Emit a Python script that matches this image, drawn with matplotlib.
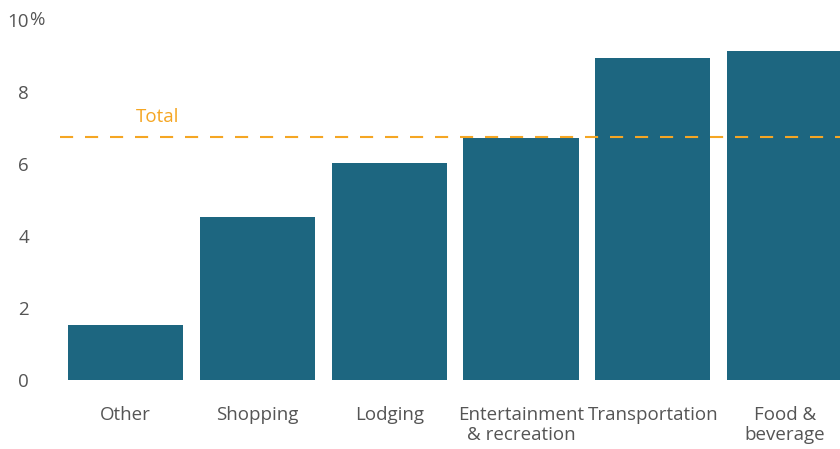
import matplotlib
matplotlib.use("Agg")
import matplotlib.pyplot as plt
import matplotlib.transforms as mtransforms

# Data
categories = ["Other", "Shopping", "Lodging", "Entertainment\n& recreation",
              "Transportation", "Food &\nbeverage"]
values = [1.53, 4.53, 6.03, 6.72, 8.94, 9.14]
total = 6.75
yticks = [0, 2, 4, 6, 8, 10]

bar_color = "#1d6680"
total_color = "#f5a623"
text_color = "#555555"

plt.rcParams['font.family'] = ['Open Sans', 'DejaVu Sans']

fig = plt.figure(figsize=(8.4, 4.49), dpi=100)
ax = fig.add_axes([40 / 840, 69 / 449, 800 / 840, 360 / 449])

x = list(range(len(categories)))
ax.bar(x, values, width=0.873, color=bar_color, zorder=2)

# Total reference line
ax.axhline(total, xmin=20 / 800, xmax=1, color=total_color, lw=1.5,
           linestyle=(0, (6.3, 5.7)), zorder=3)
ax.text(0.12, 7.3, "Total", transform=mtransforms.blended_transform_factory(ax.transAxes, ax.transData),
        color=total_color, fontsize=13.5, va="center", ha="left")

ax.set_xlim(-0.649, 5.42)
ax.set_ylim(0, 10)
ax.set_xticks(x)
ax.set_xticklabels(categories, fontsize=13.5, color=text_color, linespacing=1.15)
ax.set_yticks(yticks)
ax.set_yticklabels([str(v) for v in yticks], fontsize=13.5, color=text_color)
ax.tick_params(axis="x", length=0, pad=19)
ax.tick_params(axis="y", length=0, pad=8)

# percent sign right after the top label
ax.annotate("%", xy=(0, 10), xycoords=("axes fraction", "data"),
            xytext=(-11, 0), textcoords="offset pixels",
            ha="left", va="center", fontsize=13.5, color=text_color, annotation_clip=False)

for s in ax.spines.values():
    s.set_visible(False)

fig.savefig("out.png", dpi=100)
